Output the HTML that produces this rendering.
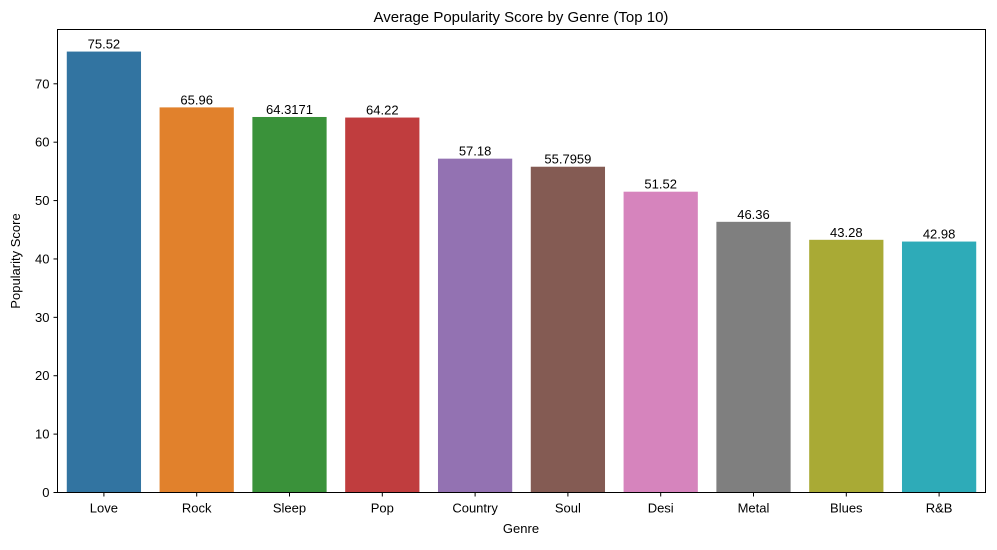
<!DOCTYPE html>
<html><head><meta charset="utf-8"><style>
body{margin:0;background:#fff;}
svg text{font-family:"Liberation Sans","DejaVu Sans",sans-serif;fill:#000;}
</style></head><body>
<svg id="chart" width="997" height="545" xmlns="http://www.w3.org/2000/svg">
<text x="521" y="22" font-size="15" text-anchor="middle">Average Popularity Score by Genre (Top 10)</text>
<g id="bars"></g><g id="yticks"></g><g id="xticks"></g>
<rect x="57.5" y="29.5" width="928" height="463" fill="none" stroke="#000" stroke-width="1"/>
<text x="521" y="533" font-size="13" text-anchor="middle">Genre</text>
<text x="20" y="261" font-size="13" text-anchor="middle" transform="rotate(-90 20 261)">Popularity Score</text>
</svg>
<script>
const categories=["Love","Rock","Sleep","Pop","Country","Soul","Desi","Metal","Blues","R&B"];
const values=[75.52,65.96,64.3171,64.22,57.18,55.7959,51.52,46.36,43.28,42.98];
const labels=["75.52","65.96","64.3171","64.22","57.18","55.7959","51.52","46.36","43.28","42.98"];
const colors=["#3274a1","#e1812c","#3a923a","#c03d3e","#9372b2","#845b53","#d684bd","#7f7f7f","#a9aa35","#2eabb8"];
const yTicks=[0,10,20,30,40,50,60,70];
const L=57.5,R=985.5,T=29.5,B=492.5,ymax=79.3;
const y=v=>B-(v/ymax)*(B-T);
const step=(R-L)/categories.length;
const x=i=>L+step*(i+0.5);
const ns="http://www.w3.org/2000/svg";
const bars=document.getElementById('bars'),yt=document.getElementById('yticks'),xt=document.getElementById('xticks');
function mk(t,a,p){const e=document.createElementNS(ns,t);for(const k in a)e.setAttribute(k,a[k]);p.appendChild(e);return e;}
values.forEach((v,i)=>{
 const w=step*0.8;
 const r=mk('rect',{x:x(i)-w/2,y:y(v),width:w,height:B-y(v),fill:colors[i]},bars);
 
 
 const t=mk('text',{x:x(i),y:y(v)-3,'font-size':13,'text-anchor':'middle'},bars);t.textContent=labels[i];
 
 
 mk('line',{x1:x(i),x2:x(i),y1:B,y2:B+4,stroke:'#000'},xt);
 const c=mk('text',{x:x(i),y:B+20,'font-size':13,'text-anchor':'middle'},xt);c.textContent=categories[i];
 
 
});
yTicks.forEach(v=>{
 mk('line',{x1:L-4,x2:L,y1:y(v),y2:y(v),stroke:'#000'},yt);
 const t=mk('text',{x:L-8,y:y(v)+4.5,'font-size':13,'text-anchor':'end'},yt);t.textContent=v;
 
 
});
</script>
</body></html>
